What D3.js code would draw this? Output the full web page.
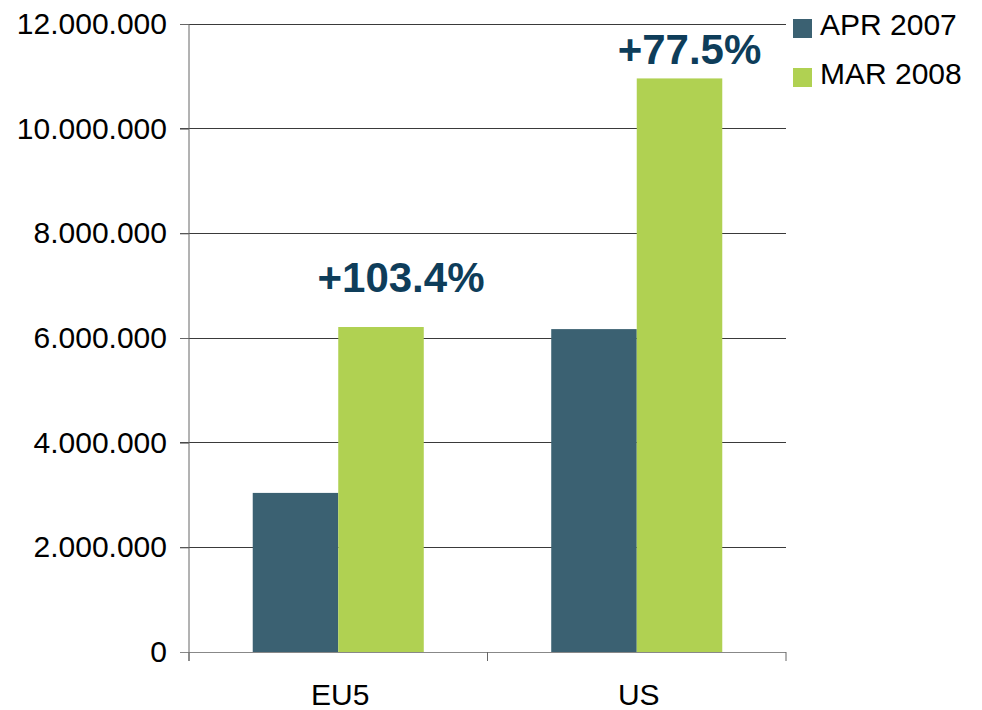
<!DOCTYPE html>
<html><head><meta charset="utf-8">
<script src="https://cdn.jsdelivr.net/npm/d3@7"></script>
<style>body{margin:0;background:#fff}svg{display:block;font-family:"Liberation Sans",Arial,sans-serif}</style>
</head><body>
<svg id="c" width="982" height="710"></svg>
<script>
const categories = ["EU5", "US"];
const seriesNames = ["APR 2007", "MAR 2008"];
const apr2007 = [3040000, 6170000];
const mar2008 = [6210000, 10960000];
const changeLabels = ["+103.4%", "+77.5%"];
const yTicks = [0, 2000000, 4000000, 6000000, 8000000, 10000000, 12000000];
const colors = ["#3b6172", "#b0d152"];

const svg = d3.select("#c");
const L = 189, R = 786, T = 24, B = 652;
const y = d3.scaleLinear().domain([0, 12000000]).range([B, T]);
const x0 = d3.scaleBand().domain(categories).range([L, R]).paddingInner(0.427).paddingOuter(0.2135);
const x1 = d3.scaleBand().domain(seriesNames).range([0, x0.bandwidth()]);
const fmt = v => d3.format(",")(v).replace(/,/g, ".");

// gridlines
svg.append("g").selectAll("line").data(yTicks.filter(d => d > 0)).join("line")
  .attr("x1", L - 9).attr("x2", R).attr("y1", d => y(d)).attr("y2", d => y(d))
  .attr("stroke", "#3a3a3a").attr("stroke-width", 1).attr("shape-rendering", "crispEdges");

// bars
const series = [apr2007, mar2008];
const g = svg.append("g");
categories.forEach((c, i) => {
  seriesNames.forEach((s, j) => {
    g.append("rect").attr("x", x0(c) + x1(s)).attr("width", x1.bandwidth())
      .attr("y", y(series[j][i])).attr("height", y(0) - y(series[j][i]))
      .attr("fill", colors[j]);
  });
});

// y axis
const yAxis = d3.axisLeft(y).tickValues(yTicks).tickFormat(fmt).tickSize(9).tickPadding(13);
const ya = svg.append("g").attr("transform", `translate(${L},0)`).call(yAxis);
ya.select(".domain").attr("stroke", "#666").attr("d", `M0,${T}V${B + 9}`);
ya.selectAll(".tick line").attr("stroke", "#666");
ya.selectAll(".tick text").attr("font-size", 30).attr("fill", "#000").attr("font-family", '"Liberation Sans",Arial,sans-serif');

// x axis
const xa = svg.append("g").attr("transform", `translate(0,${B})`);
xa.append("line").attr("x1", L - 9).attr("x2", R).attr("y1", 0).attr("y2", 0).attr("stroke", "#888").attr("shape-rendering", "crispEdges");
const edges = [L, x0(categories[1]) - x0.step() * 0.427 / 2, R];
xa.selectAll(".tk").data(edges).join("line").attr("class", "tk")
  .attr("x1", d => d).attr("x2", d => d).attr("y1", 0).attr("y2", 9).attr("stroke", "#666");
xa.selectAll(".cl").data(categories).join("text").attr("class", "cl")
  .attr("x", d => x0(d) + x0.bandwidth() / 2 + 2).attr("y", 53)
  .attr("text-anchor", "middle").attr("font-size", 30).text(d => d);

// change labels (placed above the MAR 2008 bars)
const labelDx = [20, 10], labelDy = [35, 14];
svg.selectAll(".chg").data(categories).join("text").attr("class", "chg")
  .attr("x", (d, i) => x0(d) + x1(seriesNames[1]) + x1.bandwidth() / 2 + labelDx[i])
  .attr("y", (d, i) => y(mar2008[i]) - labelDy[i])
  .attr("text-anchor", "middle").attr("font-size", 42).attr("font-weight", "bold")
  .attr("fill", "#0e3d5a").text((d, i) => changeLabels[i]);

// legend
const lg = svg.append("g").attr("transform", "translate(793,19)");
seriesNames.forEach((s, j) => {
  lg.append("rect").attr("x", 0).attr("y", j * 49).attr("width", 19).attr("height", 19).attr("fill", colors[j]);
  lg.append("text").attr("x", 27).attr("y", j * 49 + 16).attr("font-size", 30)
    .attr("fill", "#000").text(s);
});
</script>
</body></html>
